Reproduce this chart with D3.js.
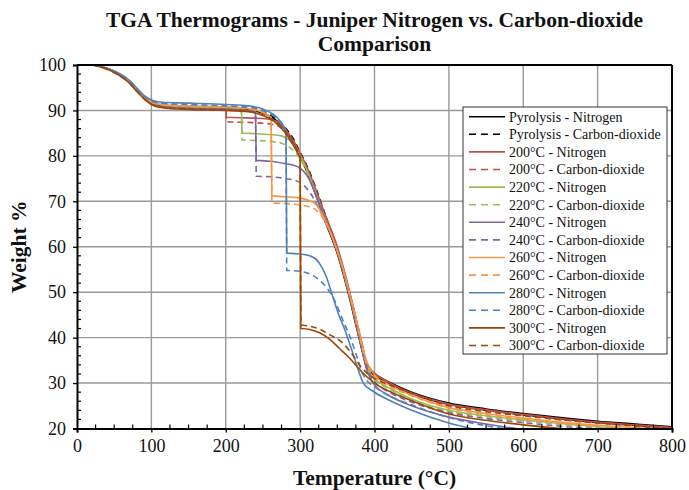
<!DOCTYPE html>
<html><head><meta charset="utf-8">
<script src="https://cdn.jsdelivr.net/npm/d3@7"></script>
<style>
body{margin:0;background:#fff;}
svg{display:block;font-family:"Liberation Serif","Times New Roman",serif;}
</style></head>
<body><svg id="c" width="689" height="490"></svg>
<script>
// ---- data (Temperature °C, Weight %) ----
const seriesNames = [
  "Pyrolysis - Nitrogen","Pyrolysis - Carbon-dioxide",
  "200°C - Nitrogen","200°C - Carbon-dioxide",
  "220°C - Nitrogen","220°C - Carbon-dioxide",
  "240°C - Nitrogen","240°C - Carbon-dioxide",
  "260°C - Nitrogen","260°C - Carbon-dioxide",
  "280°C - Nitrogen","280°C - Carbon-dioxide",
  "300°C - Nitrogen","300°C - Carbon-dioxide"
];
const seriesColors = ["#000000","#000000","#C0504D","#C0504D","#9BBB59","#9BBB59","#8064A2","#8064A2","#F79646","#F79646","#4F81BD","#4F81BD","#984807","#984807"];
const seriesDashed = [false,true,false,true,false,true,false,true,false,true,false,true,false,true];

const pyroN = [[22,100],[40,99.3],[55,98.2],[70,96.5],[80,94.8],[90,93],[100,91.8],[115,91.1],[150,90.7],[200,90.5],[230,90.1],[250,89.4],[265,88.2],[280,85.8],[290,83.3],[300,80],[310,76.2],[322,71],[335,65],[349,59],[358,54],[366,49],[374,43.5],[382,38],[389,33.8],[395,32.6],[400,32],[420,30.2],[450,28],[500,25.6],[550,24.3],[600,23.3],[650,22.4],[700,21.6],[750,21],[800,20.4]];
const pyroCO2 = [[22,100],[40,99.2],[55,98],[70,96.3],[80,94.6],[90,92.9],[100,91.9],[115,91.3],[150,90.9],[200,90.7],[230,90.3],[250,89.6],[265,88.5],[280,86.2],[290,84],[300,80.8],[310,77.5],[322,72.5],[335,66.5],[349,60],[358,55],[366,50],[374,44.5],[382,39],[389,34.2],[395,32.5],[400,31.7],[420,29.9],[450,27.7],[500,25.3],[550,24],[600,23],[650,22.1],[700,21.3],[750,20.7],[800,20.1]];
const t200N = [[22,100],[40,99.3],[55,98.2],[70,96.5],[80,94.8],[90,93],[100,91.7],[115,91],[150,90.6],[200,90.4],[201,88.5],[220,88.4],[240,88.3],[260,88],[270,87.5],[280,85.9],[290,83.6],[300,80.6],[310,77.2],[322,72.2],[335,66.5],[349,60.5],[358,55.5],[366,50.5],[374,45],[382,39.5],[389,34.6],[395,33],[400,32.2],[420,30.1],[450,27.8],[500,25.4],[550,24.1],[600,23.1],[650,22.2],[700,21.4],[750,20.8],[800,20.2]];
const t200CO2 = [[22,100],[40,99.2],[55,98.1],[70,96.4],[80,94.7],[90,92.9],[100,91.8],[115,91.1],[150,90.7],[200,90.5],[201,87.5],[220,87.4],[240,87.3],[260,87],[270,86.6],[280,85.3],[290,83.3],[300,80.4],[310,77],[322,72],[335,66.3],[349,60.3],[358,55.3],[366,50.3],[374,45],[382,39.5],[389,34.5],[395,32.8],[400,32],[420,29.9],[450,27.6],[500,25.2],[550,24],[600,23],[650,22],[700,21.2],[750,20.6],[800,20]];
const t220N = [[22,100],[40,99.3],[55,98.2],[70,96.5],[80,94.8],[90,93],[100,91.8],[115,91.1],[150,90.8],[200,90.6],[221,90.4],[222,85],[240,84.9],[260,84.7],[275,84.4],[285,83.5],[292,82.2],[300,80],[310,76.5],[322,71.3],[335,65.5],[349,59.5],[358,54.5],[366,49.5],[374,44],[382,38.5],[389,33.8],[395,32],[400,31],[420,28.9],[450,26.5],[500,24],[550,22.8],[600,21.9],[650,21.1],[700,20.4],[750,19.8]];
const t220CO2 = [[22,100],[40,99.2],[55,98.1],[70,96.4],[80,94.7],[90,92.9],[100,91.8],[115,91.1],[150,90.8],[200,90.6],[221,90.4],[222,83.5],[240,83.4],[260,83.2],[275,82.8],[285,82],[295,80.5],[302,78.8],[310,76],[322,71.2],[335,65.5],[349,59.5],[358,54.5],[366,49.5],[374,44],[382,38.5],[389,33.6],[395,31.8],[400,30.8],[420,28.7],[450,26.2],[500,23.8],[550,22.6],[600,21.7],[650,20.9],[700,20.2],[750,19.6]];
const t240N = [[22,100],[40,99.3],[55,98.2],[70,96.5],[80,94.8],[90,93],[100,91.6],[115,90.9],[150,90.4],[200,90.2],[230,89.9],[240,89.6],[241,79],[260,78.8],[280,78.3],[290,78],[300,77.3],[310,75.5],[322,71],[335,65.5],[349,59.5],[358,54.5],[366,49.5],[374,44],[382,38.2],[389,33.2],[395,30.8],[400,29.6],[420,27.2],[450,25],[500,22.5],[550,21],[590,20],[620,19.4]];
const t240CO2 = [[22,100],[40,99.2],[55,98.1],[70,96.4],[80,94.7],[90,92.9],[100,91.6],[115,90.9],[150,90.5],[200,90.3],[230,90],[240,89.7],[241,75.5],[260,75.4],[280,75],[295,74.5],[305,73.5],[315,71.5],[325,68.5],[335,65],[349,59.5],[358,54.5],[366,49.5],[374,44.5],[382,38.8],[389,33.8],[395,31.5],[400,30.3],[420,28],[450,25.8],[500,23.5],[550,22.2],[600,21.3],[650,20.5],[700,19.9]];
const t260N = [[22,100],[40,99.3],[55,98.2],[70,96.5],[80,94.8],[90,93],[100,91.9],[115,91.3],[150,91],[200,90.8],[230,90.4],[250,89.6],[261,88.5],[262,71.2],[280,71],[300,70.7],[312,70.2],[322,69.2],[330,67],[340,63.5],[349,59.5],[358,55],[366,50],[374,45],[382,39.5],[389,35],[395,33],[400,31.8],[420,29.6],[450,27.3],[500,24.6],[550,23.3],[600,22.3],[650,21.4],[700,20.7],[750,20.2],[780,19.8]];
const t260CO2 = [[22,100],[40,99.2],[55,98.1],[70,96.4],[80,94.7],[90,92.9],[100,91.8],[115,91.2],[150,90.9],[200,90.7],[230,90.3],[250,89.5],[261,88.4],[262,69.6],[280,69.5],[300,69.2],[312,68.8],[322,68],[332,66],[342,62.5],[352,58],[360,53.5],[368,48.5],[376,43],[383,38],[390,34],[396,32.4],[400,31.5],[420,29.3],[450,27.2],[500,24.5],[550,23.1],[600,22],[650,21.2],[700,20.6],[775,20]];
const t280N = [[22,100],[40,99.3],[55,98.3],[70,96.7],[80,95],[90,93.3],[100,92.3],[115,91.8],[150,91.6],[200,91.3],[230,91],[250,90.3],[265,89],[275,87.3],[281,85.6],[282,58.6],[300,58.4],[313,58],[325,56.6],[335,53.5],[343,49.5],[352,45],[360,41.8],[370,37],[378,33],[385,30],[398,28.2],[420,26.2],[450,24],[500,21.2],[530,20],[560,19]];
const t280CO2 = [[22,100],[40,99.2],[55,98.2],[70,96.6],[80,94.9],[90,93.2],[100,92.1],[115,91.6],[150,91.3],[200,91],[230,90.7],[250,90],[265,88.7],[275,87],[281,85.3],[282,54.8],[300,54.6],[313,54],[327,52.5],[338,50.5],[347,48],[357,44],[367,40.2],[375,36.5],[382,32.8],[390,30.5],[400,29.2],[420,27.2],[450,25.2],[500,22.4],[550,20.6],[580,19.8]];
const t300N = [[22,100],[40,99.1],[55,97.9],[70,96.1],[80,94.3],[90,92.6],[100,91.3],[115,90.6],[150,90.2],[200,90],[230,89.7],[250,88.9],[265,87.6],[280,85.1],[290,82.6],[300,79.6],[301,42],[313,41.8],[327,41],[340,39.6],[353,37.6],[367,35.4],[380,33],[389,31.5],[400,30],[420,28.2],[450,26.1],[500,23.2],[550,21.8],[600,20.8],[650,20],[680,19.6]];
const t300CO2 = [[22,100],[40,99.1],[55,97.9],[70,96.1],[80,94.3],[90,92.6],[100,91.4],[115,90.7],[150,90.3],[200,90.1],[230,89.8],[250,89],[265,87.8],[280,85.4],[290,83],[300,80],[301,42.8],[313,42.5],[327,41.8],[340,40.6],[356,39],[367,37],[380,34],[390,32.2],[400,31],[420,29.6],[450,27.8],[500,25],[550,23.7],[600,22.8],[650,21.9],[700,21.2],[750,20.6],[790,20]];
const seriesData = [pyroN,pyroCO2,t200N,t200CO2,t220N,t220CO2,t240N,t240CO2,t260N,t260CO2,t280N,t280CO2,t300N,t300CO2];

const xTicks = [0,100,200,300,400,500,600,700,800];
const yTicks = [20,30,40,50,60,70,80,90,100];
const titleLines = ["TGA Thermograms - Juniper Nitrogen vs. Carbon-dioxide","Comparison"];
const xLabel = "Temperature (°C)";
const yLabel = "Weight %";

// ---- layout ----
const svg = d3.select("#c");
const L = 77, R = 672, T = 65, B = 428.5;
const x = d3.scaleLinear().domain([0,800]).range([L,R]);
const y = d3.scaleLinear().domain([20,100]).range([B,T]);

// gridlines
const grid = svg.append("g");
grid.selectAll("line.gx").data(xTicks.slice(1,-1)).join("line")
  .attr("x1",d=>x(d)).attr("x2",d=>x(d)).attr("y1",T).attr("y2",B)
  .attr("stroke","#9a9a9a").attr("stroke-width",1.4);
grid.selectAll("line.gy").data(yTicks.slice(1,-1)).join("line")
  .attr("y1",d=>y(d)).attr("y2",d=>y(d)).attr("x1",L).attr("x2",R)
  .attr("stroke","#9a9a9a").attr("stroke-width",1.4);

// clip
svg.append("clipPath").attr("id","pc").append("rect")
  .attr("x",L).attr("y",T).attr("width",R-L).attr("height",B-T);

const line = d3.line().x(d=>x(d[0])).y(d=>y(d[1])).curve(d3.curveMonotoneX);
const lineLin = d3.line().x(d=>x(d[0])).y(d=>y(d[1]));
const lg = svg.append("g").attr("clip-path","url(#pc)");
seriesData.forEach((s,i)=>{
  // split at vertical drops so the drop stays a straight segment
  const segs=[]; let cur=[s[0]];
  for(let k=1;k<s.length;k++){
    if(s[k][0]-s[k-1][0]<=1.5 && Math.abs(s[k][1]-s[k-1][1])>1){
      segs.push({pts:cur,smooth:true});
      segs.push({pts:[s[k-1],s[k]],smooth:false});
      cur=[s[k]];
    } else cur.push(s[k]);
  }
  segs.push({pts:cur,smooth:true});
  const dstr = segs.map(sg=> (sg.smooth?line:lineLin)(sg.pts)).join("");
  lg.append("path").attr("d",dstr.replace(/M/g,(m,o)=> o===0?"M":"L"))
    .attr("fill","none").attr("stroke",seriesColors[i]).attr("stroke-width",1.6)
    .attr("stroke-dasharray",seriesDashed[i]?"6,4":null).attr("stroke-linejoin","round");
});

// frame top & right
svg.append("line").attr("x1",L).attr("x2",R).attr("y1",T).attr("y2",T).attr("stroke","#000").attr("stroke-width",2);
svg.append("line").attr("x1",R).attr("x2",R).attr("y1",T).attr("y2",B).attr("stroke","#000").attr("stroke-width",2);

// axes
const xAxis = d3.axisBottom(x).tickValues(xTicks).tickSize(4).tickPadding(7).tickFormat(d3.format("d"));
const gx = svg.append("g").attr("transform",`translate(0,${B})`).call(xAxis);
const yAxis = d3.axisLeft(y).tickValues(yTicks).tickSize(4).tickPadding(7).tickFormat(d3.format("d"));
const gy = svg.append("g").attr("transform",`translate(${L},0)`).call(yAxis);
[gx,gy].forEach(g=>{
  g.select(".domain").attr("stroke","#000").attr("stroke-width",2);
  g.selectAll(".tick line").attr("stroke","#000").attr("stroke-width",1.3);
  g.selectAll(".tick text").attr("font-family","Liberation Serif, Times New Roman, serif").attr("font-size",18).attr("fill","#111");
});
// minor ticks (inside)
const xMinor = d3.range(0,801,25).filter(v=>v%100!==0);
svg.append("g").selectAll("line").data(xMinor).join("line")
  .attr("x1",d=>x(d)).attr("x2",d=>x(d)).attr("y1",B).attr("y2",B-4).attr("stroke","#000").attr("stroke-width",1.2);
const yMinor = d3.range(20,101,2).filter(v=>v%10!==0);
svg.append("g").selectAll("line").data(yMinor).join("line")
  .attr("y1",d=>y(d)).attr("y2",d=>y(d)).attr("x1",L).attr("x2",L+4).attr("stroke","#000").attr("stroke-width",1.2);

// titles
svg.append("g").selectAll("text").data(titleLines).join("text")
  .attr("x",(L+R)/2).attr("y",(d,i)=>27+i*24).attr("text-anchor","middle")
  .attr("font-weight","bold").attr("font-size",21.5).attr("fill","#111").text(d=>d);
svg.append("text").attr("x",(L+R)/2).attr("y",485).attr("text-anchor","middle")
  .attr("font-weight","bold").attr("font-size",21.5).attr("fill","#111").text(xLabel);
svg.append("text").attr("transform",`translate(26,${(T+B)/2}) rotate(-90)`).attr("text-anchor","middle")
  .attr("font-weight","bold").attr("font-size",21.5).attr("fill","#111").text(yLabel);

// legend
const lx=463, ly=107, lw=204, lh=247;
const leg = svg.append("g");
leg.append("rect").attr("x",lx).attr("y",ly).attr("width",lw).attr("height",lh)
  .attr("fill","#fff").attr("stroke","#333").attr("stroke-width",1);
seriesNames.forEach((n,i)=>{
  const yy = 116.7 + i*17.6;
  leg.append("line").attr("x1",469).attr("x2",505).attr("y1",yy).attr("y2",yy)
    .attr("stroke",seriesColors[i]).attr("stroke-width",1.6)
    .attr("stroke-dasharray",seriesDashed[i]?"7,5":null);
  leg.append("text").attr("x",509).attr("y",yy).attr("dy","0.35em")
    .attr("font-size",14).attr("fill","#111").text(n);
});
</script></body></html>
